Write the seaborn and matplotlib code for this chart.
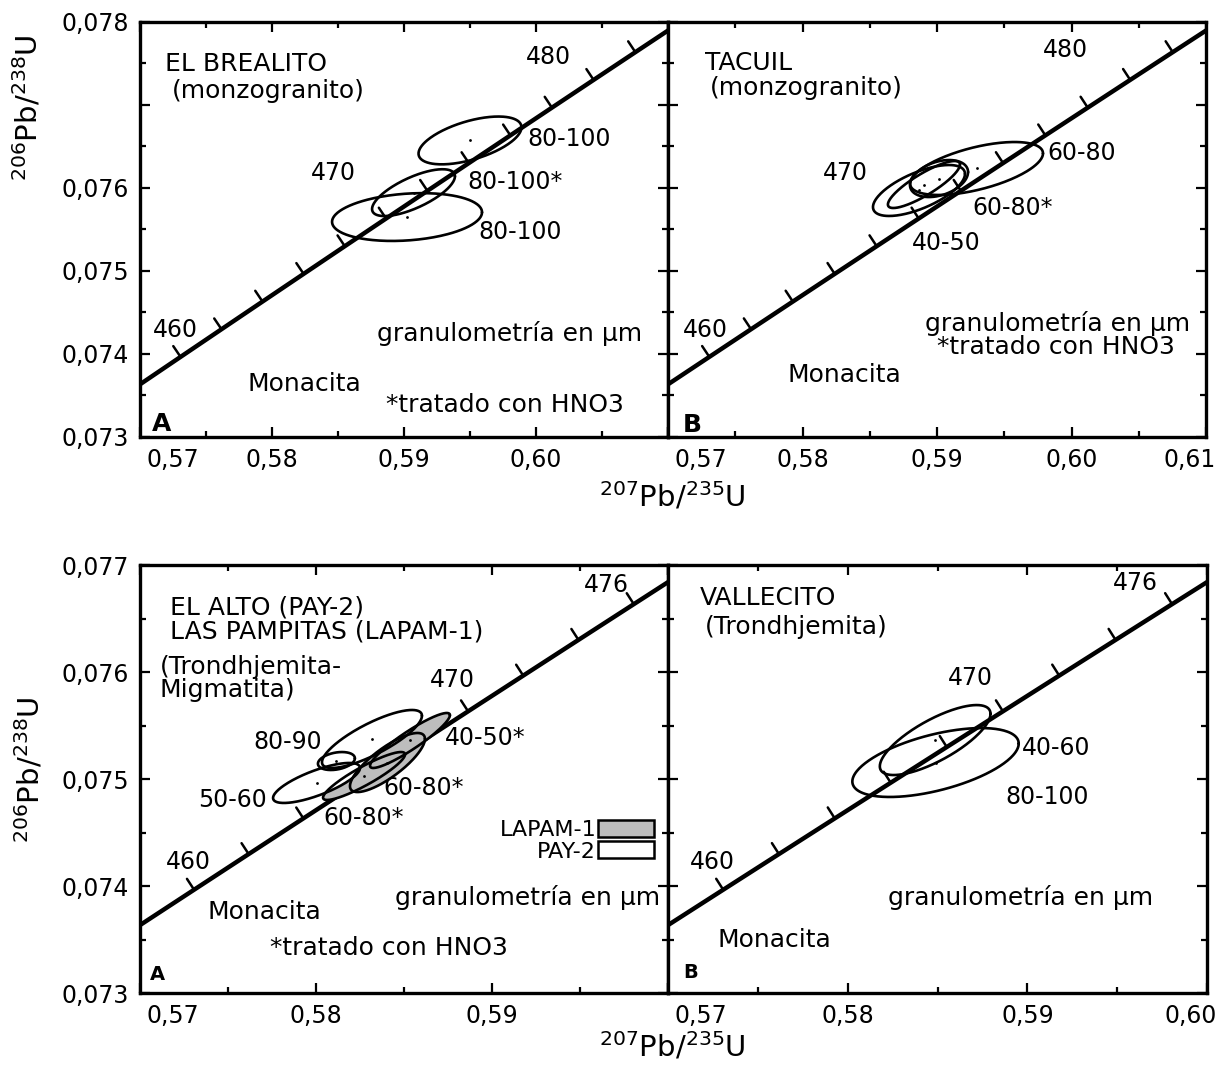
import numpy as np
import pandas as pd
import matplotlib
matplotlib.use("Agg")
import matplotlib.pyplot as plt
import seaborn as sns
from matplotlib.patches import Patch
from matplotlib.transforms import ScaledTranslation

W, H = 1231, 1077

# decay constants (1/Ma) and the ages marked on the concordia
lam238 = 1.55125e-4
lam235 = 9.8485e-4
conc_ages = [454, 456, 458, 460, 462, 464, 466, 468, 470, 472,
             474, 476, 478, 480, 482, 484, 486, 488, 490]

# panels
panel_names = ['brealito', 'tacuil', 'alto', 'vallecito']
panel_xlim = [(0.57, 0.61), (0.57, 0.61), (0.57, 0.60), (0.57, 0.60)]
panel_ylim = [(0.073, 0.078), (0.073, 0.078), (0.073, 0.077), (0.073, 0.077)]

xticks_top = [0.57, 0.58, 0.59, 0.60, 0.61]
xticks_bot = [0.57, 0.58, 0.59, 0.60]
xlabels_tl = ['0,57', '0,58', '0,59', '0,60', '']
xlabels_tr = ['0,57', '0,58', '0,59', '0,60', '0,61']
xlabels_bl = ['0,57', '0,58', '0,59', '']
xlabels_br = ['0,57', '0,58', '0,59', '0,60']
yticks_top = [0.073, 0.074, 0.075, 0.076, 0.077, 0.078]
yticks_bot = [0.073, 0.074, 0.075, 0.076, 0.077]
ylabels_top = ['0,073', '0,074', '0,075', '0,076', '', '0,078']
ylabels_bot = ['0,073', '0,074', '0,075', '0,076', '0,077']

# error ellipses: centre, half widths, correlation
ell_panel = ['brealito'] * 3 + ['tacuil'] * 4 + ['alto'] * 6 + ['vallecito'] * 2
ell_group = ['none'] * 7 + ['LAPAM-1', 'LAPAM-1', 'PAY-2', 'PAY-2', 'PAY-2', 'LAPAM-1'] + ['none'] * 2
ell_x = [0.5950, 0.59072, 0.59023,
         0.59294, 0.59015, 0.58903, 0.58866,
         0.58273, 0.58534, 0.58003, 0.58318, 0.58116, 0.58406,
         0.58487, 0.58489]
ell_sx = [0.0039, 0.00314, 0.00568,
          0.00494, 0.00216, 0.00268, 0.00342,
          0.00233, 0.00227, 0.00247, 0.00284, 0.00105, 0.00213,
          0.00308, 0.00463]
ell_y = [0.076573, 0.075944, 0.07565,
         0.076235, 0.076114, 0.076042, 0.07597,
         0.075028, 0.07536, 0.074963, 0.075374, 0.075168, 0.075154,
         0.075364, 0.075154]
ell_sy = [0.000288, 0.000282, 0.000288,
          0.000319, 0.000223, 0.000283, 0.000307,
          0.000224, 0.000257, 0.000187, 0.000271, 0.000084, 0.000276,
          0.000327, 0.000322]
ell_rho = [0.55, 0.7, 0.2,
           0.57, 0.35, 0.85, 0.65,
           0.9, 0.92, 0.75, 0.8, 0.3, 0.8,
           0.75, 0.55]

ell = pd.DataFrame({'panel': ell_panel, 'group': ell_group, 'x': ell_x, 'sx': ell_sx,
                    'y': ell_y, 'sy': ell_sy, 'rho': ell_rho})

grey = '#bdbdbd'

sns.set_theme(style='white')
plt.rcParams['font.family'] = ['DejaVu Sans']
plt.rcParams['mathtext.fontset'] = 'dejavusans'
plt.rcParams['text.color'] = 'black'

fig = plt.figure(figsize=(W / 100, H / 100), dpi=100)


def px_text(x, y, s, size=18, ha='left', **kw):
    fig.text(x / W, 1 - y / H, s, size=size, ha=ha, va='center', color='black', **kw)


# layout of the four boxes in pixels (left, top, right, bottom)
boxes = [(140, 22, 668, 437), (668, 22, 1206, 437), (140, 565, 668, 993), (668, 565, 1207, 993)]
xt = [xticks_top, xticks_top, xticks_bot, xticks_bot]
xl = [xlabels_tl, xlabels_tr, xlabels_bl, xlabels_br]
yt = [yticks_top, yticks_top, yticks_bot, yticks_bot]
yl = [ylabels_top, None, ylabels_bot, None]

axes = {}
tt = np.linspace(0, 2 * np.pi, 240)
cx = np.expm1(lam235 * np.array(conc_ages))
cy = np.expm1(lam238 * np.array(conc_ages))

for i, name in enumerate(panel_names):
    l, t, r, b = boxes[i]
    ax = fig.add_axes([l / W, 1 - b / H, (r - l) / W, (b - t) / H])
    axes[name] = ax
    ax.set_facecolor('white')
    ax.set_xlim(panel_xlim[i])
    ax.set_ylim(panel_ylim[i])
    for s in ax.spines.values():
        s.set_linewidth(2.4)
        s.set_color('black')
    ax.set_xticks(xt[i])
    ax.set_xticklabels(xl[i])
    ax.set_xticks([v + 0.005 for v in xt[i][:-1]], minor=True)
    ax.set_yticks(yt[i])
    if yl[i] is None:
        ax.set_yticklabels([])
    else:
        ax.set_yticklabels(yl[i])
    ax.set_yticks([v + 0.0005 for v in yt[i][:-1]], minor=True)
    ax.tick_params(which='both', direction='in', top=True, right=True, bottom=True, left=True,
                   width=1.6, color='black', labelsize=17, labelcolor='black')
    ax.tick_params(which='major', length=7.5)
    ax.tick_params(which='minor', length=4.5)
    ax.tick_params(axis='x', pad=8)
    ax.tick_params(axis='y', pad=8)
    labs = ax.get_xticklabels()
    first = labs[0]
    first.set_ha('left')
    first.set_transform(first.get_transform() + ScaledTranslation(6 / 100, 0, fig.dpi_scale_trans))
    if xl[i][-1]:
        last = labs[-1]
        last.set_transform(last.get_transform() + ScaledTranslation(-16 / 100, 0, fig.dpi_scale_trans))

    # concordia and its age ticks
    sns.lineplot(x=cx, y=cy, sort=False, estimator=None, color='black', linewidth=3.2, ax=ax, zorder=2)
    pts = ax.transData.transform(np.column_stack([cx, cy]))
    d = np.gradient(pts, axis=0)
    d = d / np.linalg.norm(d, axis=1)[:, None]
    nrm = np.column_stack([-d[:, 1], d[:, 0]])
    ends = pts + 13 * nrm
    inv = ax.transData.inverted()
    for p, e in zip(pts, ends):
        seg = inv.transform(np.vstack([p, e]))
        ax.plot(seg[:, 0], seg[:, 1], color='black', lw=1.8, zorder=2)

    # error ellipses
    sub = ell[ell.panel == name]
    for row in sub.itertuples():
        ex = row.x + row.sx * np.cos(tt)
        ey = row.y + row.sy * (row.rho * np.cos(tt) + np.sqrt(1 - row.rho ** 2) * np.sin(tt))
        if row.group == 'LAPAM-1':
            ax.fill(ex, ey, facecolor=grey, edgecolor='none', zorder=3)
        elif row.group == 'PAY-2':
            ax.fill(ex, ey, facecolor='white', edgecolor='none', zorder=3)
        ax.plot(ex, ey, color='black', lw=1.9, zorder=4)
    sns.scatterplot(data=sub, x='x', y='y', color='black', s=4, linewidth=0, ax=ax,
                    legend=False, zorder=5)
    ax.set_xlabel('')
    ax.set_ylabel('')

# legend for the lower left panel
handles = [Patch(facecolor=grey, edgecolor='black', linewidth=1.8),
           Patch(facecolor='white', edgecolor='black', linewidth=1.8)]
fig.legend(handles, ['LAPAM-1', 'PAY-2'], loc='upper right',
           bbox_to_anchor=(654 / W, 1 - 820 / H), frameon=False, markerfirst=False,
           fontsize=16, handlelength=2.5, handleheight=0.8, handletextpad=0.1,
           labelspacing=0.05, borderpad=0, borderaxespad=0)

# axis titles
xlab = r'$^{207}\mathrm{Pb}/^{235}\mathrm{U}$'
ylab = r'$^{206}\mathrm{Pb}/^{238}\mathrm{U}$'
px_text(672, 497, xlab, size=21, ha='center')
px_text(672, 1047, xlab, size=21, ha='center')
fig.text(28 / W, 1 - 108 / H, ylab, size=21, rotation=90, ha='center', va='center', color='black')
fig.text(30 / W, 1 - 770 / H, ylab, size=21, rotation=90, ha='center', va='center', color='black')

# panel A (top)
px_text(165, 64, 'EL BREALITO')
px_text(172, 91, '(monzogranito)')
px_text(333, 173, '470', size=17, ha='center')
px_text(548, 57, '480', size=17, ha='center')
px_text(175, 330, '460', size=17, ha='center')
px_text(527, 139, '80-100', size=17)
px_text(467, 182, '80-100*', size=17)
px_text(478, 232, '80-100', size=17)
px_text(377, 333, 'granulometría en μm')
px_text(248, 384, 'Monacita')
px_text(386, 405, '*tratado con HNO3')
px_text(152, 424, 'A', size=18, weight='bold')

# panel B (top)
px_text(705, 63, 'TACUIL')
px_text(710, 88, '(monzogranito)')
px_text(845, 173, '470', size=17, ha='center')
px_text(1065, 50, '480', size=17, ha='center')
px_text(705, 330, '460', size=17, ha='center')
px_text(1047, 153, '60-80', size=17)
px_text(972, 208, '60-80*', size=17)
px_text(912, 243, '40-50', size=17)
px_text(925, 323, 'granulometría en μm')
px_text(937, 347, '*tratado con HNO3')
px_text(787, 375, 'Monacita')
px_text(683, 425, 'B', size=18, weight='bold')

# panel A (bottom)
px_text(170, 607, 'EL ALTO (PAY-2)')
px_text(170, 632, 'LAS PAMPITAS (LAPAM-1)')
px_text(160, 667, '(Trondhjemita-')
px_text(160, 690, 'Migmatita)')
px_text(452, 680, '470', size=17, ha='center')
px_text(606, 585, '476', size=17, ha='center')
px_text(188, 862, '460', size=17, ha='center')
px_text(253, 742, '80-90', size=17)
px_text(198, 800, '50-60', size=17)
px_text(445, 738, '40-50*', size=17)
px_text(383, 788, '60-80*', size=17)
px_text(323, 818, '60-80*', size=17)
px_text(395, 897, 'granulometría en μm')
px_text(207, 912, 'Monacita')
px_text(270, 948, '*tratado con HNO3')
px_text(150, 974, 'A', size=14, weight='bold')

# panel B (bottom)
px_text(700, 598, 'VALLECITO')
px_text(705, 627, '(Trondhjemita)')
px_text(970, 678, '470', size=17, ha='center')
px_text(1135, 583, '476', size=17, ha='center')
px_text(712, 862, '460', size=17, ha='center')
px_text(1022, 748, '40-60', size=17)
px_text(1005, 797, '80-100', size=17)
px_text(888, 898, 'granulometría en μm')
px_text(718, 940, 'Monacita')
px_text(683, 973, 'B', size=14, weight='bold')

fig.savefig('out.png', dpi=100, facecolor='white')
